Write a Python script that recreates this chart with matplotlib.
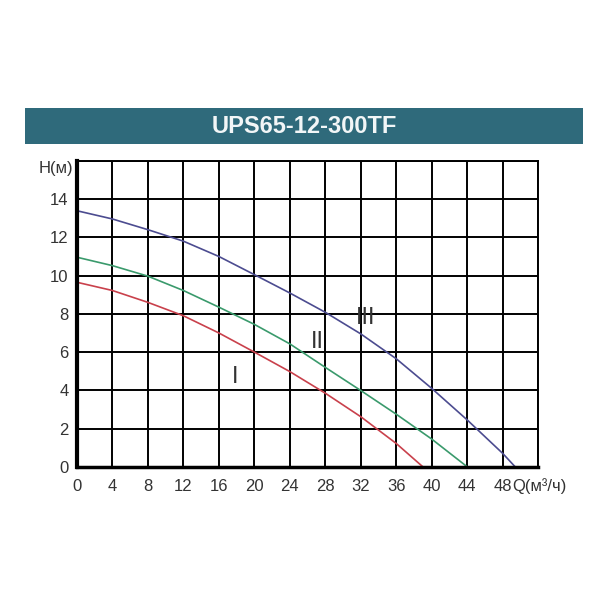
import numpy as np
import matplotlib
matplotlib.use('Agg')
import matplotlib.pyplot as plt
from matplotlib.patches import Rectangle

plt.rcParams['font.family'] = ['Liberation Sans', 'DejaVu Sans']

TITLE = "UPS65-12-300TF"

# кривые насоса, скорости I, II, III
q_1 = [0, 4, 8, 12, 16, 20, 24, 28, 32, 36, 39.0]
h_1 = [9.65, 9.22, 8.6, 7.9, 7.0, 6.0, 4.98, 3.85, 2.62, 1.22, 0]

q_2 = [0, 4, 8, 12, 16, 20, 24, 28, 32, 36, 40, 44]
h_2 = [10.96, 10.52, 9.97, 9.22, 8.35, 7.45, 6.43, 5.2, 3.99, 2.75, 1.45, 0]

q_3 = [0, 4, 8, 12, 16, 20, 24, 28, 32, 36, 40, 44, 48, 49.4]
h_3 = [13.39, 12.96, 12.4, 11.8, 11.0, 10.05, 9.09, 8.08, 6.95, 5.65, 4.1, 2.45, 0.7, 0]

speed_labels = ["I", "II", "III"]
label_pos = [(17.8, 4.7), (27.1, 6.55), (32.5, 7.8)]

x_ticks = list(range(0, 49, 4))
y_ticks = list(range(0, 15, 2))

fig = plt.figure(figsize=(6, 6), dpi=100)

# шапка с названием модели
banner = fig.add_axes([0.042, 0.76, 0.930, 0.06])
banner.add_patch(Rectangle((0, 0), 1, 1, color='#2f6a7b'))
banner.set_xlim(0, 1)
banner.set_ylim(0, 1)
banner.axis('off')
banner.text(0.5, 0.48, TITLE, color='#f2f6f7', fontsize=17, fontweight='bold',
            ha='center', va='center')

ax = fig.add_axes([0.128, 0.222, 0.769, 0.51])
ax.set_xlim(0, 52)
ax.set_ylim(0, 16)
ax.set_xticks(range(0, 53, 4))
ax.set_xticklabels([str(v) for v in x_ticks] + [""])
ax.set_yticks(range(0, 17, 2))
ax.set_yticklabels([str(v) for v in y_ticks] + [""])
ax.grid(True, color='black', linewidth=1.4)
ax.set_axisbelow(True)
ax.tick_params(length=0, labelsize=12, labelcolor='#333333')
ax.tick_params(axis='x', pad=9)
ax.tick_params(axis='y', pad=6)
for s in ['top', 'right']:
    ax.spines[s].set_linewidth(1.4)
ax.spines['left'].set_linewidth(3)
ax.spines['bottom'].set_linewidth(2.5)

ax.plot(q_1, h_1, color='#c9414c', linewidth=1.2)
ax.plot(q_2, h_2, color='#3a9a6c', linewidth=1.2)
ax.plot(q_3, h_3, color='#4c4c90', linewidth=1.2)

for lab, (x, y) in zip(speed_labels, label_pos):
    ax.text(x, y, lab, fontsize=17, color='#333333', ha='center', va='center')

ax.text(-0.4, 15.6, "H(м)", fontsize=12, color='#333333', ha='right', va='center')
ax.annotate("Q(м³/ч)", xy=(49.1, 0), xycoords='data', xytext=(0, -14),
            textcoords='offset points', fontsize=12, color='#333333',
            ha='left', va='center', annotation_clip=False)

fig.savefig('out.png', dpi=100)
